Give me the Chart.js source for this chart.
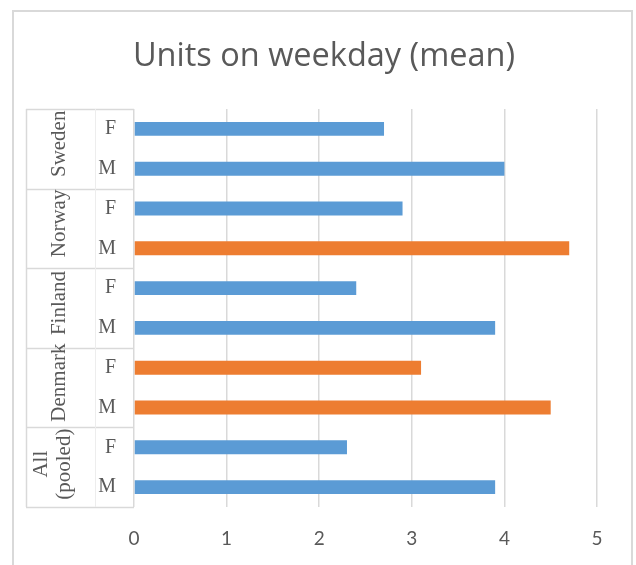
<!DOCTYPE html>
<html>
<head>
<meta charset="utf-8">
<script src="https://cdn.jsdelivr.net/npm/chart.js@4"></script>
<style>
  html, body { margin: 0; padding: 0; background: #ffffff; }
  #wrap { position: relative; width: 636px; height: 565px; }
</style>
</head>
<body>
<div id="wrap"><canvas id="c" width="636" height="565"></canvas></div>
<script>
// Data (top to bottom as shown)
const title = "Units on weekday (mean)";
const groups = ["Sweden", "Norway", "Finland", "Denmark", "All (pooled)"];
const categories = ["F", "M", "F", "M", "F", "M", "F", "M", "F", "M"];
const values = [2.7, 4.0, 2.9, 4.7, 2.4, 3.9, 3.1, 4.5, 2.3, 3.9];
const highlighted = [false, false, false, true, false, false, true, true, false, false];
const xTicks = [0, 1, 2, 3, 4, 5];

const BLUE = "#5B9BD5";
const ORANGE = "#ED7D31";
const GRID = "#D9D9D9";
const TEXT = "#595959";
const SERIF = "'Liberation Serif', 'Times New Roman', serif";
const SANS = "Lato, 'Open Sans', sans-serif";

const groupPlugin = {
  id: "groupPlugin",
  beforeDraw(chart) {
    const ctx = chart.ctx;
    ctx.save();
    ctx.strokeStyle = GRID;
    ctx.lineWidth = 2;
    ctx.beginPath();
    ctx.moveTo(13, 600);
    ctx.lineTo(13, 11);
    ctx.lineTo(632, 11);
    ctx.lineTo(632, 600);
    ctx.stroke();
    // title
    ctx.fillStyle = TEXT;
    ctx.font = "32.5px 'Open Sans', Lato, sans-serif";
    ctx.textAlign = "center";
    ctx.textBaseline = "alphabetic";
    ctx.fillText(title, 324, 66);
    ctx.restore();
  },
  afterDraw(chart) {
    const ctx = chart.ctx;
    const area = chart.chartArea;
    const n = categories.length;
    const step = (area.bottom - area.top) / n;
    const boxLeft = 26;
    const boxRight = area.left;
    const divX = 95;
    ctx.save();
    ctx.strokeStyle = GRID;
    ctx.lineWidth = 1.5;
    for (let g = 0; g <= groups.length; g++) {
      const yy = Math.round(area.top + g * 2 * step) + 0.5;
      ctx.beginPath();
      ctx.moveTo(boxLeft, yy);
      ctx.lineTo(boxRight, yy);
      ctx.stroke();
    }
    ctx.beginPath();
    ctx.moveTo(boxLeft + 0.5, area.top);
    ctx.lineTo(boxLeft + 0.5, area.bottom);
    ctx.stroke();
    ctx.strokeStyle = "#EDEDED";
    ctx.lineWidth = 1;
    ctx.beginPath();
    ctx.moveTo(divX + 0.5, area.top);
    ctx.lineTo(divX + 0.5, area.bottom);
    ctx.stroke();

    ctx.fillStyle = TEXT;
    ctx.font = "21px " + SERIF;
    ctx.textAlign = "center";
    ctx.textBaseline = "middle";
    for (let g = 0; g < groups.length; g++) {
      const center = area.top + (g * 2 + 1) * step;
      const words = groups[g].split(" ");
      ctx.save();
      if (words.length === 1) {
        ctx.translate(0, center - 5);
        ctx.rotate(-Math.PI / 2);
        ctx.fillText(words[0], 0, 59);
      } else {
        ctx.translate(0, center - 3);
        ctx.rotate(-Math.PI / 2);
        const lh = 23;
        const cx = 53;
        words.forEach((w, i) => {
          ctx.fillText(w, 0, cx + (i - (words.length - 1) / 2) * lh);
        });
      }
      ctx.restore();
    }
    ctx.restore();
  }
};

new Chart(document.getElementById("c"), {
  type: "bar",
  data: {
    labels: categories,
    datasets: [{
      label: title,
      data: values,
      backgroundColor: highlighted.map(h => h ? ORANGE : BLUE),
      borderWidth: 0,
      barPercentage: 0.35,
      categoryPercentage: 1.0
    }]
  },
  options: {
    indexAxis: "y",
    responsive: false,
    animation: false,
    devicePixelRatio: 1,
    layout: { padding: { left: 0, right: 39, top: 109, bottom: 0 } },
    plugins: {
      legend: { display: false },
      tooltip: { enabled: false },
      title: { display: false }
    },
    scales: {
      x: {
        min: 0,
        max: 5,
        afterBuildTicks(scale) { scale.ticks = xTicks.map(v => ({ value: v })); },
        afterFit(scale) { scale.height = 58; },
        grid: { color: GRID, lineWidth: 1.5, drawTicks: false },
        border: { display: false },
        ticks: {
          color: TEXT,
          padding: 20,
          font: { family: SANS, size: 19 }
        }
      },
      y: {
        grid: { display: false, drawTicks: false },
        border: { display: false },
        afterFit(scale) { scale.width = 134; },
        ticks: {
          color: TEXT,
          padding: 18,
          font: { family: SERIF, size: 20 }
        }
      }
    }
  },
  plugins: [groupPlugin]
});
</script>
</body>
</html>
